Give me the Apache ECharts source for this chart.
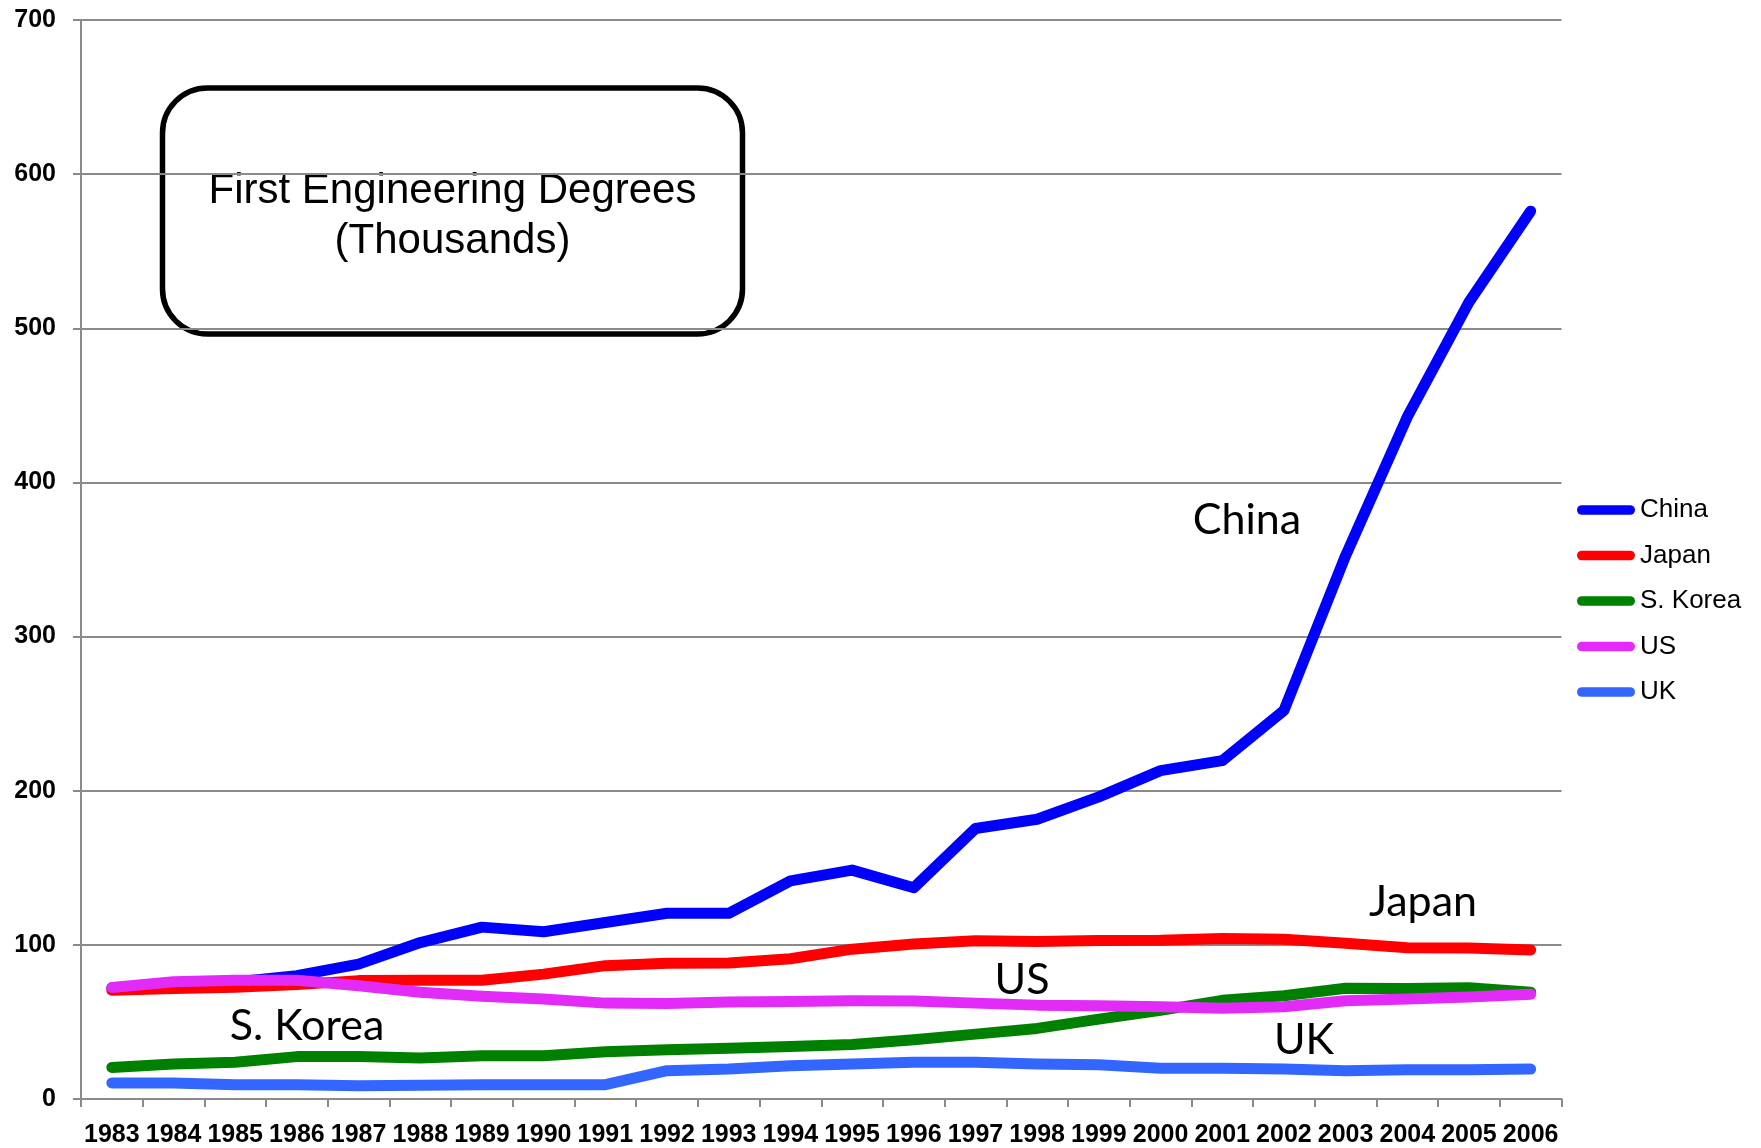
<!DOCTYPE html>
<html>
<head>
<meta charset="utf-8">
<style>
  html, body { margin: 0; padding: 0; background: #fff; }
  #chart { width: 1761px; height: 1148px; }
</style>
<script src="https://cdn.jsdelivr.net/npm/echarts@6/dist/echarts.min.js"></script>
</head>
<body>
<div id="chart"></div>
<script>
// First engineering degrees awarded per year, in thousands
const years = ['1983','1984','1985','1986','1987','1988','1989','1990','1991','1992','1993','1994',
               '1995','1996','1997','1998','1999','2000','2001','2002','2003','2004','2005','2006'];

const china = [72, 74, 76, 80, 87.5, 101.5, 111.5, 108.5, 114.5, 120.5, 120.5, 141.5,
               148.5, 137, 175.5, 181.5, 196, 213, 219.5, 252, 352.5, 442.5, 517, 576];
const japan = [70.5, 71.7, 72.5, 74.2, 76.8, 77, 77, 81, 86.5, 88, 88.3, 91,
               97.2, 100.5, 102.6, 102.2, 102.8, 103, 104.1, 103.7, 101.1, 98.1, 98, 96.6];
const korea = [20.5, 22.7, 23.8, 27.5, 27.5, 26.6, 28, 28, 30.7, 32, 33, 34.1,
               35.3, 38.5, 42.1, 45.8, 51.8, 57.5, 64, 67, 71.9, 71.7, 72.2, 69.3];
const us    = [72.4, 76, 77.1, 77, 73.5, 69.2, 66.6, 64.8, 62.2, 62, 63, 63.3,
               63.8, 63.5, 62.2, 60.9, 60.5, 59.9, 58.8, 59.9, 63.8, 64.8, 66.1, 68];
const uk    = [10.4, 10.4, 9.3, 9.3, 8.6, 9, 9.3, 9.3, 9.3, 18.4, 19.4, 21.6,
               22.7, 23.8, 23.8, 22.7, 22.2, 19.9, 19.9, 19.4, 18.4, 19, 19, 19.4];

const seriesNames  = ['China', 'Japan', 'S. Korea', 'US', 'UK'];
const seriesColors = ['#0000FF', '#FF0000', '#008000', '#E32BF8', '#3366FF'];
const seriesData   = [china, japan, korea, us, uk];

const yTicks = { min: 0, max: 700, interval: 100 };

const chart = echarts.init(document.getElementById('chart'));

const axisGray = '#8a8a8a';
const labelFont = { fontFamily: '"Liberation Sans", Arial, sans-serif', fontWeight: 'bold', fontSize: 25, color: '#000' };
const noteFont = 'normal 43px Lato, "Open Sans", sans-serif';
const titleFont = 'normal 42px "Liberation Sans", Arial, sans-serif';

// rounded bar used as legend key
const legendIcon = 'path://M5,0 L55,0 A5,5 0 0 1 55,10 L5,10 A5,5 0 0 1 5,0 Z';

function note(x, y, text) {
  return { type: 'text', z: 100, style: { x: x, y: y, text: text, textAlign: 'center', textVerticalAlign: 'middle', font: noteFont, fill: '#000' } };
}

chart.setOption({
  animation: false,
  backgroundColor: '#fff',
  grid: { left: 81, right: 199.5, top: 20, bottom: 48, containLabel: false },
  xAxis: {
    type: 'category',
    data: years,
    boundaryGap: true,
    axisLine: { lineStyle: { color: axisGray, width: 2 } },
    axisTick: { show: true, length: 8, lineStyle: { color: axisGray, width: 2 } },
    axisLabel: Object.assign({ margin: 24, interval: 0 }, labelFont),
    splitLine: { show: false }
  },
  yAxis: {
    type: 'value',
    min: yTicks.min, max: yTicks.max, interval: yTicks.interval,
    axisLine: { show: true, lineStyle: { color: axisGray, width: 2 } },
    axisTick: { show: true, length: 8, lineStyle: { color: axisGray, width: 2 } },
    axisLabel: Object.assign({ margin: 25 }, labelFont),
    splitLine: { show: true, lineStyle: { color: axisGray, width: 2 } }
  },
  legend: {
    orient: 'vertical',
    left: 1577,
    top: 497,
    padding: 0,
    itemWidth: 58,
    itemHeight: 10,
    itemGap: 19.5,
    icon: legendIcon,
    textStyle: { fontFamily: '"Liberation Sans", Arial, sans-serif', fontSize: 26, color: '#000', lineHeight: 26 },
    data: seriesNames
  },
  series: seriesNames.map((name, i) => ({
    name: name,
    type: 'line',
    data: seriesData[i],
    showSymbol: false,
    symbol: 'none',
    color: seriesColors[i],
    lineStyle: { color: seriesColors[i], width: 11, cap: 'round', join: 'round' },
    emphasis: { disabled: true }
  })),
  graphic: [
    {
      type: 'group',
      z: 100,
      children: [
        {
          type: 'rect',
          shape: { x: 162.5, y: 88, width: 580, height: 246, r: 45 },
          style: { fill: '#fff', stroke: '#000', lineWidth: 5.5 }
        },
        {
          type: 'text',
          style: {
            x: 452.5, y: 191, text: 'First Engineering Degrees',
            textAlign: 'center', textVerticalAlign: 'middle', font: titleFont, fill: '#000'
          }
        },
        {
          type: 'text',
          style: {
            x: 452.5, y: 241, text: '(Thousands)',
            textAlign: 'center', textVerticalAlign: 'middle', font: titleFont, fill: '#000'
          }
        }
      ]
    },
    note(1247, 520, 'China'),
    note(1423, 902, 'Japan'),
    note(1022, 980, 'US'),
    note(307, 1026, 'S. Korea'),
    note(1304, 1040, 'UK')
  ]
});
</script>
</body>
</html>
